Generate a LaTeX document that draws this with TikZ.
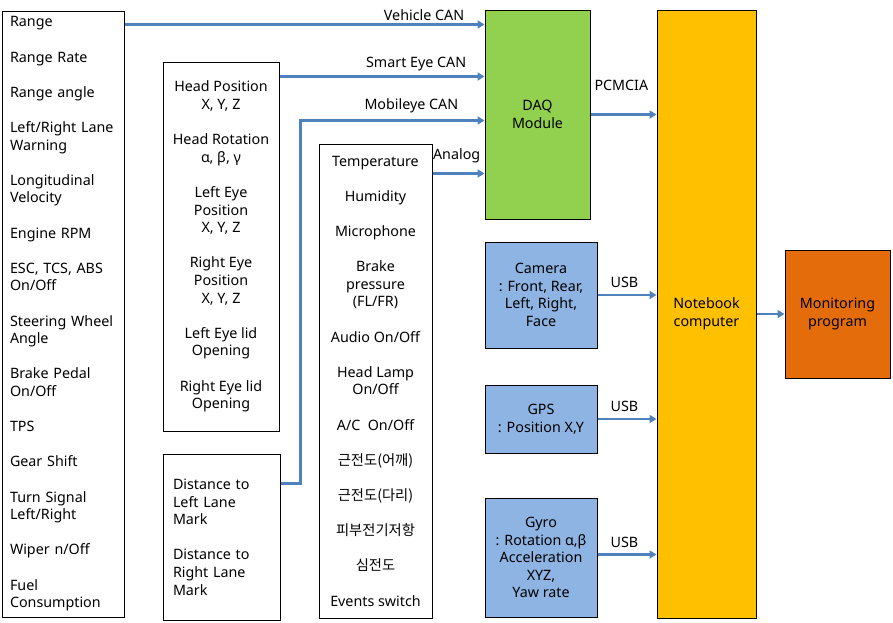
\documentclass[tikz,border=0pt]{standalone}
\usepackage{fontspec}
\setmainfont{Noto Sans}
\newfontfamily\kr{Noto Sans CJK KR}
\usetikzlibrary{arrows.meta}
\usetikzlibrary{positioning}
\definecolor{linkblue}{HTML}{4F81BD}
\definecolor{daqgreen}{HTML}{92D050}
\definecolor{sensblue}{HTML}{8EB4E3}
\definecolor{nbyellow}{HTML}{FFC000}
\definecolor{monorange}{HTML}{E46C0A}
\newcommand{\nxt}{\\[17.6pt]}
\tikzstyle{box} = [rectangle, draw=black, line width=1pt, inner sep=0pt, align=center, font=\fontsize{14.3}{17.6}\selectfont]
\tikzstyle{listbox} = [box, align=left, inner ysep=0pt]
\tikzstyle{link} = [draw=linkblue, line width=2.6pt, -{Triangle[length=7pt,width=8pt]}]
\tikzstyle{tag} = [font=\fontsize{14.3}{17.6}\selectfont, inner sep=1pt, anchor=south east, pos=1]

\begin{document}
\begin{tikzpicture}[x=1pt, y=-1pt]
  \useasboundingbox (0,0) rectangle (893,622);

  % signal lists
  \node (sig) [listbox, text width=106pt, inner xsep=8pt, minimum height=606pt] at (63,314) {
    Range\nxt
    Range Rate\nxt
    Range angle\nxt
    Left/Right Lane\\Warning\nxt
    Longitudinal\\Velocity\nxt
    Engine RPM\nxt
    ESC, TCS, ABS\\On/Off\nxt
    Steering Wheel\\Angle\nxt
    Brake Pedal\\On/Off\nxt
    TPS\nxt
    Gear Shift\nxt
    Turn Signal\\Left/Right\nxt
    Wiper n/Off\nxt
    Fuel\\Consumption};
  \node (head) [box, minimum width=116pt, minimum height=369pt] at (221,246.5) {
    Head Position\\X, Y, Z\nxt
    Head Rotation\\α, β, γ\nxt
    Left Eye\\Position\\X, Y, Z\nxt
    Right Eye\\Position\\X, Y, Z\nxt
    Left Eye lid\\Opening\nxt
    Right Eye lid\\Opening};
  \node (dist) [listbox, text width=97pt, inner xsep=10pt, minimum height=166pt] at (221.5,537) {
    Distance to\\Left Lane\\Mark\nxt
    Distance to\\Right Lane\\Mark};
  \node (env) [box, minimum width=113pt, minimum height=474pt] at (375.5,381) {
    Temperature\nxt
    Humidity\nxt
    Microphone\nxt
    Brake\\pressure\\(FL/FR)\nxt
    Audio On/Off\nxt
    Head Lamp\\On/Off\nxt
    A/C~~On/Off\nxt
    {\kr 근전도(어깨)}\nxt
    {\kr 근전도(다리)}\nxt
    {\kr 피부전기저항}\nxt
    {\kr 심전도}\nxt
    Events switch};

  % hardware
  \node (daq) [box, fill=daqgreen, minimum width=105pt, minimum height=209pt] at (537.5,114.5) {DAQ\\Module};
  \node (cam) [box, fill=sensblue, minimum width=112pt, minimum height=106pt] at (541,295) {Camera\\: Front, Rear,\\Left, Right,\\Face};
  \node (gps) [box, fill=sensblue, minimum width=112pt, minimum height=68pt] at (541,419) {GPS\\: Position X,Y};
  \node (gyro) [box, fill=sensblue, minimum width=112pt, minimum height=119pt] at (541,557.5) {Gyro\\: Rotation α,β\\Acceleration\\XYZ,\\Yaw rate};
  \node (nb) [box, fill=nbyellow, minimum width=99pt, minimum height=608pt] at (706.5,314) {Notebook\\computer};
  \node (mon) [box, fill=monorange, minimum width=105pt, minimum height=128pt] at (837.5,314) {Monitoring\\program};

  % links
  \draw[link] ([yshift=-14pt]sig.north east) -- node[tag, xshift=-18pt, yshift=1.5pt] {Vehicle CAN} ([yshift=-14pt]sig.north east -| daq.west);
  \draw[link] ([yshift=-15pt]head.north east) -- node[tag, xshift=-16pt, yshift=3.5pt] {Smart Eye CAN} ([yshift=-15pt]head.north east -| daq.west);
  \draw[link] ([yshift=-30pt]dist.north east) -- ++(20pt,0) |- node[tag, xshift=-24pt, yshift=5.5pt] {Mobileye CAN} ([yshift=-111pt]daq.north west);
  \draw[link] ([yshift=-30pt]env.north east) -- node[tag, xshift=-2pt, yshift=8.5pt] {Analog} ([yshift=-30pt]env.north east -| daq.west);
  \draw[link] (daq.east) -- node[tag, xshift=-6pt, yshift=21.5pt] {PCMCIA} (daq.east -| nb.west);
  \draw[link] (cam.east) -- node[tag, xshift=-16pt, yshift=5pt] {USB} (cam.east -| nb.west);
  \draw[link] (gps.east) -- node[tag, xshift=-16pt, yshift=5pt] {USB} (gps.east -| nb.west);
  \draw[link] ([yshift=3pt]gyro.east) -- node[tag, xshift=-16pt, yshift=5pt] {USB} ([yshift=3pt]gyro.east -| nb.west);
  \draw[link] (nb.east) -- (mon.west);
\end{tikzpicture}
\end{document}
